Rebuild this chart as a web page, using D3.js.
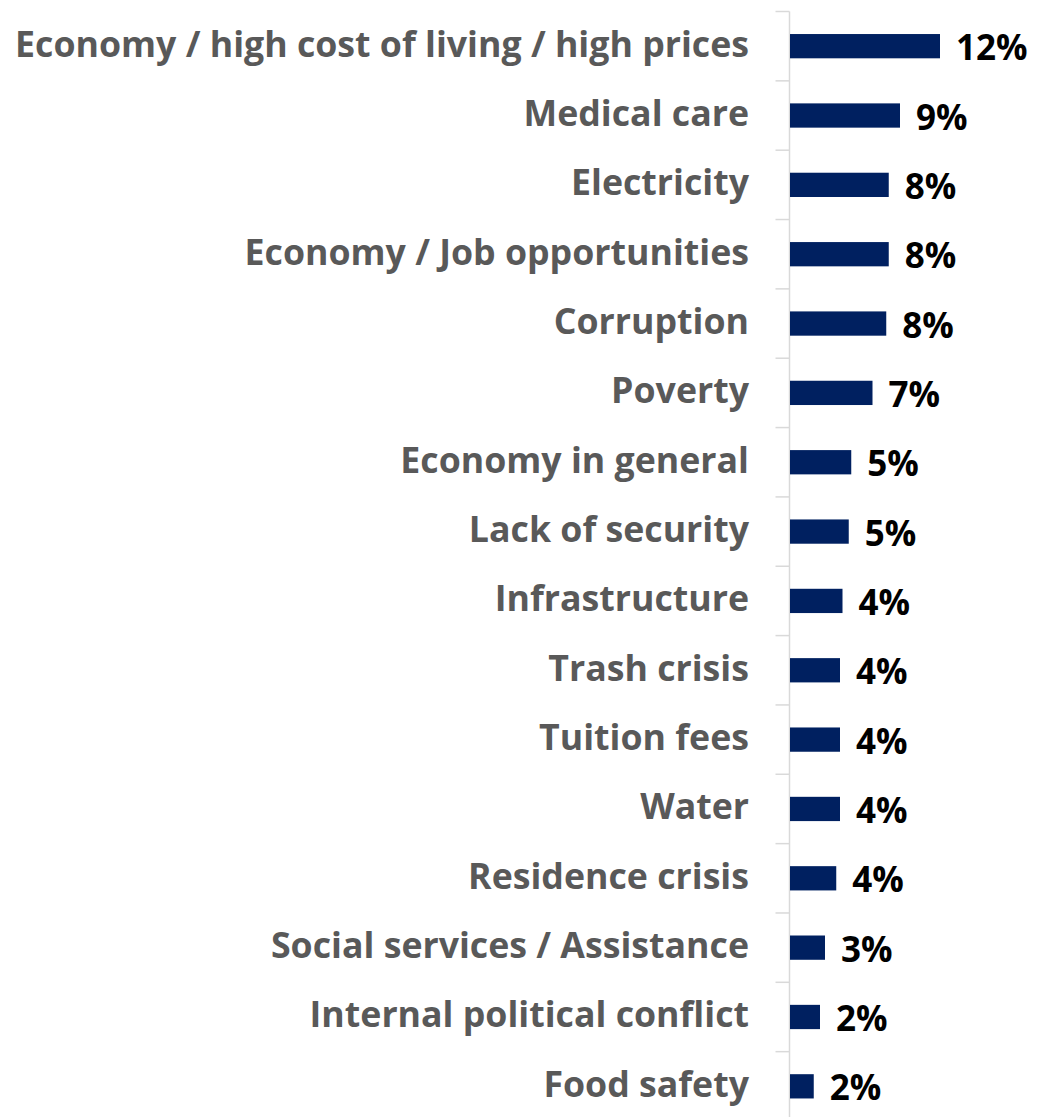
<!DOCTYPE html>
<html>
<head>
<meta charset="utf-8">
<script src="https://cdn.jsdelivr.net/npm/d3@7"></script>
<style>
  html, body { margin: 0; padding: 0; background: #fff; }
  svg { display: block; }
</style>
</head>
<body>
<svg id="chart" width="1037" height="1117"></svg>
<script>
// Most important problems (share of respondents, %)
const categories = [
  "Economy / high cost of living / high prices",
  "Medical care",
  "Electricity",
  "Economy / Job opportunities",
  "Corruption",
  "Poverty",
  "Economy in general",
  "Lack of security",
  "Infrastructure",
  "Trash crisis",
  "Tuition fees",
  "Water",
  "Residence crisis",
  "Social services / Assistance",
  "Internal political conflict",
  "Food safety"
];
const shares = [12.0, 8.8, 7.9, 7.9, 7.7, 6.6, 4.9, 4.7, 4.2, 4.0, 4.0, 4.0, 3.7, 2.8, 2.4, 1.9];

const data = categories.map((c, i) => ({ category: c, value: shares[i] }));

const svg = d3.select("#chart");
const FONT = "'Open Sans', Lato, sans-serif";

const y = d3.scaleBand()
  .domain(categories)
  .range([11.5, 1121])
  .paddingInner(0.65)
  .paddingOuter(0.325);

const x = d3.scaleLinear()
  .domain([0, 12])
  .range([790, 940]);

const axisX = 789.5;

// vertical category axis
svg.append("line")
  .attr("x1", axisX).attr("x2", axisX)
  .attr("y1", y.range()[0]).attr("y2", 1117)
  .attr("stroke", "#d9d9d9")
  .attr("stroke-width", 1.5);

// tick marks sit on the boundaries between categories
const boundaries = d3.range(categories.length + 1).map(i => y.range()[0] + i * y.step());
svg.append("g")
  .selectAll("line")
  .data(boundaries)
  .join("line")
  .attr("x1", axisX - 14).attr("x2", axisX)
  .attr("y1", d => d).attr("y2", d => d)
  .attr("stroke", "#d9d9d9")
  .attr("stroke-width", 1.5);

// bars
svg.append("g")
  .selectAll("rect")
  .data(data)
  .join("rect")
  .attr("x", x(0))
  .attr("y", d => y(d.category))
  .attr("width", d => x(d.value) - x(0))
  .attr("height", y.bandwidth())
  .attr("fill", "#002060");

// category labels, sized so the longest one spans the left column
const labels = svg.append("g")
  .selectAll("text")
  .data(data)
  .join("text")
  .attr("x", 749)
  .attr("y", d => y(d.category) + y.bandwidth() / 2 + 10.5)
  .attr("text-anchor", "end")
  .attr("font-family", FONT)
  .attr("font-weight", 700)
  .attr("font-size", 34)
  .attr("fill", "#595959")
  .text(d => d.category);

const widest = d3.max(labels.nodes(), n => n.getComputedTextLength());
const targetWidth = 734;
labels.attr("font-size", 34 * targetWidth / widest);

// value labels
const fmt = v => d3.format(".0f")(v) + "%";
svg.append("g")
  .selectAll("text")
  .data(data)
  .join("text")
  .attr("x", d => x(d.value) + 16)
  .attr("y", d => y(d.category) + y.bandwidth() / 2 + 14)
  .attr("font-family", FONT)
  .attr("font-weight", 700)
  .attr("font-size", 35)
  .attr("fill", "#000")
  .text(d => fmt(d.value));
</script>
</body>
</html>
